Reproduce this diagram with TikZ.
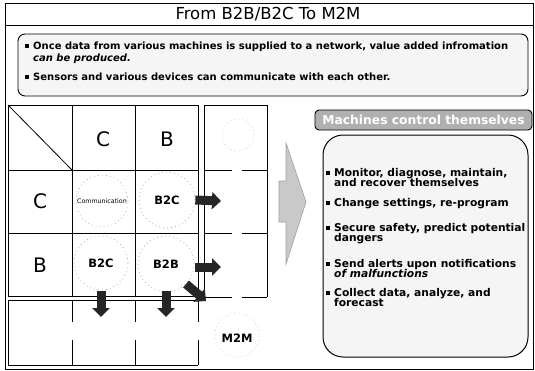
\documentclass[tikz,border=0pt]{standalone}
\usepackage{fontspec}
\setmainfont{DejaVu Sans}
\usetikzlibrary{arrows.meta}
\newcommand\sqb{\llap{\rule[0.8pt]{4pt}{4pt}\hspace{4.5pt}}}
\begin{document}
\begin{tikzpicture}[x=1pt,y=-1pt,
  frameline/.style={line width=0.9pt},
  gridline/.style={line width=0.9pt},
  hgap/.style={line width=0.9pt, dash pattern=on 28pt off 10pt on 40pt},
  vgap/.style={line width=0.9pt, dash pattern=on 22pt off 18pt on 40pt},
  dotcirc/.style={circle, draw=gray!70, line width=0.7pt, dash pattern=on 0.8pt off 3.2pt, inner sep=0pt},
  blockarrow/.style={line width=9pt, draw=black!85, -{Triangle[width=17pt,length=9pt]}},
  headtxt/.style={font=\fontsize{20}{22}\selectfont, inner sep=0pt},
  celltxt/.style={font=\fontsize{11.5}{13}\selectfont\bfseries, inner sep=0pt},
  toptxt/.style={anchor=base west, inner sep=0pt, font=\fontsize{10}{11}\selectfont\bfseries},
  righttxt/.style={anchor=base west, inner sep=0pt, font=\fontsize{10.7}{11}\selectfont\bfseries}
]
\useasboundingbox (0,0) rectangle (535,370);
% frame
\draw[frameline] (5,3) rectangle (533,369);
\draw[frameline] (5,25) -- (533,25);
\node[font=\fontsize{16.5}{18}\selectfont, inner sep=0pt] (title) at (268,14) {From B2B/B2C To M2M};
% top bullet box
\draw[line width=0.9pt, fill=gray!8, rounded corners=7pt] (18,34) rectangle (528,96);
\node[toptxt] (t1) at (33,49) {\sqb Once data from various machines is supplied to a network, value added infromation};
\node[toptxt] (t2) at (33,61) {\itshape can be produced.};
\node[toptxt] (t3) at (33,80) {\sqb Sensors and various devices can communicate with each other.};
% main grid
\draw[gridline] (8,105) rectangle (198,296);
\foreach \x in {72,135} \draw[gridline] (\x,105) -- (\x,296);
\foreach \y in {170,233} \draw[gridline] (8,\y) -- (198,\y);
\draw[line width=0.8pt] (8,105) -- (72,170);
% right column
\draw[gridline] (204,297) -- (204,105) -- (267,105) -- (267,297);
\foreach \y in {170,233,297} \draw[hgap] (204,\y) -- (267,\y);
% bottom row
\draw[gridline] (198,300) -- (8,300) -- (8,365) -- (198,365);
\foreach \x in {72,135,198} \draw[vgap] (\x,300) -- (\x,365);
% labels
\node[headtxt] (hC) at (103,139) {C};
\node[headtxt] (hB) at (167,139) {B};
\node[headtxt] (rC) at (40,201) {C};
\node[headtxt] (rB) at (40,265) {B};
% circles
\node[dotcirc, minimum size=52pt] (cCC) at (102,201) {};
\node[dotcirc, minimum size=56pt] (cCB) at (167,200) {};
\node[dotcirc, minimum size=54pt] (cBC) at (101,263) {};
\node[dotcirc, minimum size=56pt] (cBB) at (166,264) {};
\node[dotcirc, minimum size=32pt, draw=gray!45] (cTR) at (238,135) {};
\node[dotcirc, minimum size=44pt, draw=gray!40] (cM) at (237,335) {};
\node[inner sep=0pt, font=\fontsize{6.3}{7}\selectfont] (comm) at (cCC) {Communication};
\node[celltxt] (b2c1) at (cCB) {B2C};
\node[celltxt] (b2c2) at (cBC) {B2C};
\node[celltxt] (b2b) at (cBB) {B2B};
\node[celltxt] (m2m) at (237,338) {M2M};
% block arrows
\coordinate (eCB) at (221,201);
\coordinate (eBB) at (221,267);
\coordinate (eBC) at (101,317);
\coordinate (eBBd) at (166,317);
\coordinate (eDiag) at (206,301);
\draw[blockarrow] (cCB.east) -- (eCB);
\draw[blockarrow] (195,267) -- (eBB);
\draw[blockarrow] (101,291) -- (eBC);
\draw[blockarrow] (166,291) -- (eBBd);
\draw[blockarrow] (cBB.south east) -- (eDiag);
% big arrow
\draw[fill=gray!42, draw=gray!75, line width=0.6pt] (279,181) -- (286,181) -- (286,143) -- (306,202) -- (286,264) -- (286,222) -- (279,222) -- cycle;
% right label
\node[draw=black, line width=0.9pt, fill=gray!62, rounded corners=4pt, minimum width=217pt, minimum height=20pt, inner sep=0pt,
  font=\fontsize{12.3}{13}\selectfont\bfseries, text=white] (lab) at (423.5,120) {Machines control themselves};
% right box
\draw[line width=1pt, fill=gray!8, rounded corners=20pt] (323,135) rectangle (528,357);
\node[righttxt] (r1) at (334,176) {\sqb Monitor, diagnose, maintain,};
\node[righttxt] (r2) at (334,186) {and recover themselves};
\node[righttxt] (r3) at (334,206) {\sqb Change settings, re-program};
\node[righttxt] (r4) at (334,231) {\sqb Secure safety, predict potential};
\node[righttxt] (r5) at (334,241) {dangers};
\node[righttxt] (r6) at (334,267) {\sqb Send alerts upon notifications};
\node[righttxt] (r7) at (334,277) {\itshape of malfunctions};
\node[righttxt] (r8) at (334,296) {\sqb Collect data, analyze, and};
\node[righttxt] (r9) at (334,306) {forecast};
\end{tikzpicture}
\end{document}
